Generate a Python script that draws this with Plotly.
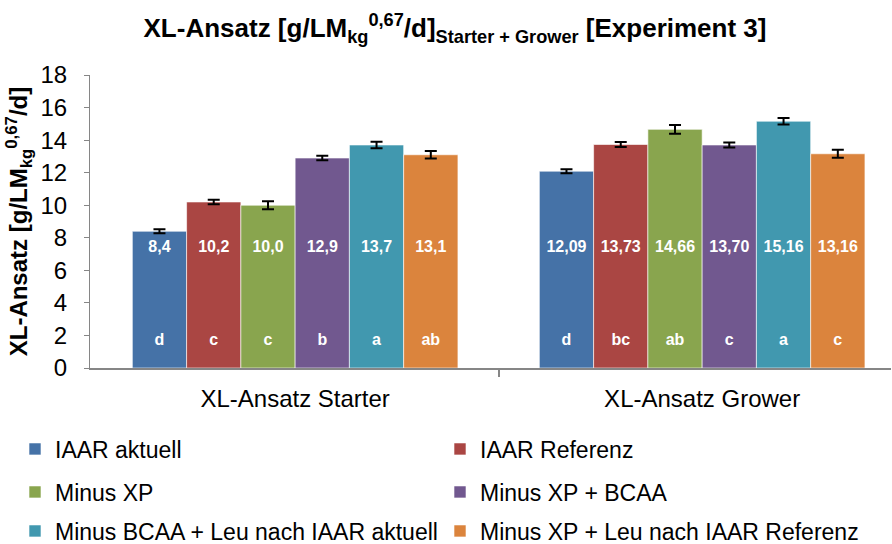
import plotly.graph_objects as go

categories = ["XL-Ansatz Starter", "XL-Ansatz Grower"]
series_names = [
    "IAAR aktuell",
    "IAAR Referenz",
    "Minus XP",
    "Minus XP + BCAA",
    "Minus BCAA + Leu nach IAAR aktuell",
    "Minus XP + Leu nach IAAR Referenz",
]
colors = ["#4572A7", "#AA4643", "#89A54E", "#71588F", "#4198AF", "#DB843D"]

starter_values = [8.4, 10.2, 10.0, 12.9, 13.7, 13.1]
grower_values = [12.09, 13.73, 14.66, 13.70, 15.16, 13.16]
starter_err = [0.12, 0.14, 0.25, 0.14, 0.2, 0.23]
grower_err = [0.12, 0.16, 0.27, 0.16, 0.2, 0.25]
starter_labels = ["8,4", "10,2", "10,0", "12,9", "13,7", "13,1"]
grower_labels = ["12,09", "13,73", "14,66", "13,70", "15,16", "13,16"]
starter_letters = ["d", "c", "c", "b", "a", "ab"]
grower_letters = ["d", "bc", "ab", "c", "a", "c"]

value_label_y = 7.37
letter_label_y = 1.68

FONT = "Liberation Sans, Arial, sans-serif"
cat_x = [0, 1]

fig = go.Figure()
legend_ids = ["legend", "legend", "legend2", "legend2", "legend3", "legend3"]
for i, name in enumerate(series_names):
    fig.add_trace(go.Bar(
        x=cat_x,
        y=[starter_values[i], grower_values[i]],
        name=name,
        marker=dict(color=colors[i], line=dict(color="rgba(255,255,255,0.6)", width=1)),
        error_y=dict(type="data", array=[starter_err[i], grower_err[i]],
                     color="black", thickness=2, width=6),
        offsetgroup=str(i),
        legend=legend_ids[i],
        hoverinfo="skip",
    ))
for i, name in enumerate(series_names):
    fig.add_trace(go.Scatter(
        x=cat_x + cat_x,
        y=[value_label_y, value_label_y, letter_label_y, letter_label_y],
        text=[starter_labels[i], grower_labels[i], starter_letters[i], grower_letters[i]],
        mode="text",
        textfont=dict(family=FONT, size=16, color="white", weight="bold"),
        offsetgroup=str(i),
        showlegend=False,
        hoverinfo="skip",
    ))

pl, pr, pt, pb = 90, 1, 75, 176
W, H = 892, 544
plot_w = W - pl - pr
plot_h = H - pt - pb


def px(p):
    return (p - pl) / plot_w


def py(p):
    return (H - pb - p) / plot_h


leg_common = dict(orientation="h", xanchor="left", yanchor="middle",
                  font=dict(family=FONT, size=23, color="black"),
                  entrywidthmode="pixels", entrywidth=380, itemwidth=30,
                  bgcolor="rgba(0,0,0,0)", traceorder="normal")

fig.update_layout(
    width=W, height=H,
    margin=dict(l=pl, r=pr, t=pt, b=pb, autoexpand=False),
    paper_bgcolor="white", plot_bgcolor="white",
    barmode="group", bargap=0.2, bargroupgap=0,
    scattermode="group", scattergap=0.2,
    font=dict(family=FONT, color="black"),
    title=dict(
        text="XL-Ansatz [g/LM<sub>kg</sub><sup>0,67</sup>/d]<sub>Starter + Grower</sub> [Experiment 3]",
        font=dict(family=FONT, size=26, color="black", weight="bold"),
        xref="container", x=455 / W, xanchor="center",
        yref="container", y=1 - 28 / H, yanchor="middle",
    ),
    xaxis=dict(
        range=[-0.504, 1.464],
        tickmode="array", tickvals=cat_x, ticktext=categories,
        ticks="", showline=True, linecolor="#868686", linewidth=2,
        tickfont=dict(family=FONT, size=24, color="black"),
        ticklabelstandoff=8,
        showgrid=False, zeroline=False,
        minor=dict(tickmode="array", tickvals=[0.5], ticks="outside",
                   ticklen=7, tickcolor="#868686", tickwidth=2, showgrid=False),
    ),
    yaxis=dict(
        range=[0, 18], dtick=2, tick0=0,
        ticks="outside", ticklen=5, tickcolor="#868686", tickwidth=1,
        showline=True, linecolor="#868686", linewidth=1,
        tickfont=dict(family=FONT, size=24, color="black"),
        ticklabelstandoff=12,
        showgrid=False, zeroline=False,
        title=dict(text="XL-Ansatz [g/LM<sub>kg</sub><sup>0,67</sup>/d]",
                   font=dict(family=FONT, size=24, color="black", weight="bold"),
                   standoff=6),
    ),
    legend=dict(x=px(15), y=py(449), **leg_common),
    legend2=dict(x=px(15), y=py(492), **leg_common),
    legend3=dict(x=px(15), y=py(531), **leg_common),
    showlegend=True,
)

fig.write_html("out.html", config={"displayModeBar": False},
               post_script="document.body.style.margin='0';")
